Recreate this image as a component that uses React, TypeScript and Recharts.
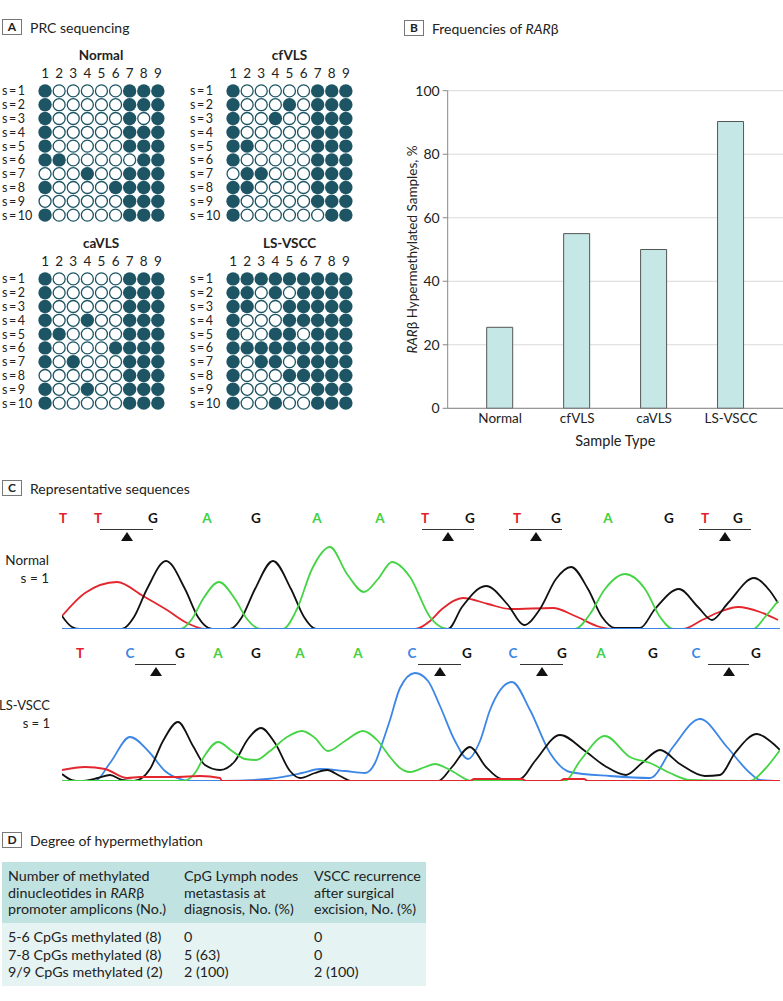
import React from "react";
import {
  BarChart,
  Bar,
  XAxis,
  YAxis,
  CartesianGrid,
  Label,
  ScatterChart,
  Scatter,
  LineChart,
  Line,
} from "recharts";

const FONT = "Lato, 'Noto Sans', sans-serif";
const TEAL = "#1d5565";
const TEXT = "#222";

// Panel A: methylation of the 9 CpG sites (1 = methylated), rows s=1..10
const cpgSites = [1, 2, 3, 4, 5, 6, 7, 8, 9];
const sampleRows = [1, 2, 3, 4, 5, 6, 7, 8, 9, 10];
const normalRows = ["100000111", "100000111", "100000101", "100000111", "100000111", "110000011", "000100111", "100001111", "000000111", "100000111"];
const cfvlsRows = ["100000111", "100010111", "100100111", "100000111", "110000111", "100000111", "011000111", "110000111", "100000111", "100000011"];
const cavlsRows = ["100000111", "100000111", "100000111", "100100111", "110000111", "100001111", "101000111", "000000111", "100100111", "100000111"];
const lsvsccRows = ["111111111", "110101111", "110011111", "100011111", "100110111", "111111111", "101101111", "100011111", "100000111", "100100111"];

// Panel B
const sampleTypes = ["Normal", "cfVLS", "caVLS", "LS-VSCC"];
const hypermethylatedPct = [25.5, 55, 50, 90.3];
const pctTicks = [0, 20, 40, 60, 80, 100];

// Panel C: chromatogram traces, [scan position, signal]
const normalT = [[0,13],[23,36],[55,47],[81,33],[105,19],[125,6],[143,0],[353,0],[368,8],[380,20],[401,31],[426,25],[448,20],[491,21],[513,13],[538,2],[553,0],[621,0],[640,9],[660,18],[676,22],[698,17],[716,9]];
const normalG = [[0,13],[10,2],[18,0],[60,0],[72,12],[85,40],[104,68],[123,40],[136,12],[150,0],[168,0],[180,12],[193,40],[211,68],[229,40],[242,12],[254,0],[386,0],[400,22],[424,43],[446,24],[462,4],[478,20],[494,50],[509,62],[526,40],[540,12],[553,1],[578,1],[593,20],[617,40],[636,22],[650,9],[666,26],[692,51],[708,38],[716,26]];
const normalA = [[0,0],[118,0],[130,10],[141,30],[157,47],[173,30],[185,10],[198,0],[221,0],[235,20],[250,60],[268,82],[285,55],[302,37],[316,50],[330,67],[348,52],[368,12],[386,0],[513,0],[528,15],[543,40],[563,55],[583,40],[598,12],[611,0],[691,0],[703,12],[716,28]];
const normalC = [[0,0],[718,0]];

const lsT = [[0,11],[23,14],[43,12],[65,3],[78,4],[113,4],[138,5],[158,3],[160,0],[408,0],[412,2],[460,2],[464,0],[498,0],[502,2],[522,2],[526,0],[718,0]];
const lsG = [[0,7],[10,1],[18,0],[36,3],[48,6],[60,1],[72,0],[88,12],[101,40],[116,59],[131,35],[143,16],[158,11],[173,20],[186,42],[199,53],[213,38],[228,10],[238,3],[253,8],[265,11],[278,5],[290,0],[376,0],[390,14],[408,34],[424,14],[440,2],[458,2],[473,20],[498,46],[523,30],[543,15],[564,6],[580,18],[598,31],[618,17],[643,5],[658,6],[673,28],[695,47],[708,40],[718,31]];
const lsA = [[0,0],[121,0],[133,8],[143,26],[156,39],[170,30],[183,22],[194,21],[208,30],[225,44],[240,50],[253,43],[266,30],[283,40],[301,50],[316,40],[328,24],[338,13],[348,9],[363,14],[373,17],[388,11],[410,0],[503,0],[518,20],[543,45],[568,24],[588,18],[608,8],[628,1],[688,0],[703,12],[718,31]];
const lsC = [[0,0],[33,0],[48,18],[68,44],[88,28],[103,10],[118,2],[130,0],[160,0],[205,2],[240,8],[258,12],[283,10],[303,8],[313,18],[321,40],[328,61],[338,93],[353,108],[366,100],[378,75],[393,40],[406,22],[418,40],[428,71],[450,99],[468,71],[488,28],[508,9],[548,5],[588,3],[611,34],[638,62],[665,34],[688,8],[698,1],[718,0]];

const normalBases = "TTGAGAATGTGAGTG";
const normalBasePos = [1, 36, 91, 145, 194, 255, 318, 363, 408, 455, 494, 546, 607, 643, 676];
const normalCpG = [[38, 91], [360, 412], [447, 500], [637, 689]];
const lsBases = "TCGAGAACGCGAGCG";
const lsBasePos = [18, 68, 118, 156, 194, 238, 296, 350, 405, 451, 500, 539, 591, 634, 694];
const lsCpG = [[73, 114], [356, 399], [458, 501], [646, 687]];

// Panel D
const methylGroups = ["5-6 CpGs methylated (8)", "7-8 CpGs methylated (8)", "9/9 CpGs methylated (2)"];
const nodeMetastasis = ["0", "5 (63)", "2 (100)"];
const recurrence = ["0", "0", "2 (100)"];

const BASE_COLORS: Record<string, string> = { T: "#e3212b", G: "#111111", A: "#3fd13f", C: "#3b86e6" };

const PanelTag = ({ letter, left, top, children }: any) => (
  <div style={{ position: "absolute", left, top, display: "flex", alignItems: "center", height: 16, whiteSpace: "nowrap" }}>
    <div style={{ width: 18, height: 14, border: "1px solid #777", fontWeight: 700, fontSize: 12, textAlign: "center", lineHeight: "14px" }}>
      {letter}
    </div>
    <div style={{ marginLeft: 8, fontSize: 14, color: TEXT }}>{children}</div>
  </div>
);

const ColTick = ({ x, y, payload }: any) => (
  <text x={x} y={y - 11} textAnchor="middle" dominantBaseline="central" fontSize={13.5} fill={TEXT} fontFamily={FONT}>
    {payload.value}
  </text>
);

const RowTick = ({ x, y, payload }: any) => (
  <text x={x - 36} y={y} textAnchor="start" dominantBaseline="central" fontSize={12.5} fill={TEXT} fontFamily={FONT}>
    {`s\u2009=\u2009${payload.value}`}
  </text>
);

const DotShape = ({ cx, cy, payload }: any) =>
  payload.m ? (
    <circle cx={cx} cy={cy} r={6.7} fill={TEAL} />
  ) : (
    <circle cx={cx} cy={cy} r={6} fill="#fff" stroke={TEAL} strokeWidth={1.3} />
  );

// the x scale spans one spare column on the right so each site gets ~14 px
const DotGrid = ({ title, rows, left, top }: any) => {
  const data = rows.flatMap((r: string, i: number) =>
    r.split("").map((c, j) => ({ site: cpgSites[j], sample: sampleRows[i], m: c === "1" }))
  );
  return (
    <div style={{ position: "absolute", left, top }}>
      <div style={{ position: "absolute", left: 37, width: 127, top: -16, lineHeight: "18px", textAlign: "center", fontWeight: 700, fontSize: 13.5, color: TEXT }}>
        {title}
      </div>
      <ScatterChart width={180} height={162} margin={{ top: 0, right: 2, bottom: 2, left: 0 }}>
        <XAxis type="number" dataKey="site" orientation="top" domain={[0.5, 10.5]} allowDataOverflow ticks={cpgSites} interval={0} axisLine={false} tickLine={false} tickSize={0} tickMargin={0} height={22} tick={ColTick} />
        <YAxis type="number" dataKey="sample" domain={[0.5, 10.5]} allowDataOverflow reversed ticks={sampleRows} interval={0} axisLine={false} tickLine={false} tickSize={0} tickMargin={0} width={37} tick={RowTick} />
        <Scatter data={data} shape={DotShape} isAnimationActive={false} />
      </ScatterChart>
    </div>
  );
};

const YTitle = (props: any) => {
  const vb = props.viewBox || { x: 0, y: 30.7, width: 47.7, height: 317.6 };
  const cx = vb.x + 11.7;
  const cy = vb.y + vb.height / 2;
  return (
    <text x={cx} y={cy} transform={`rotate(-90 ${cx} ${cy})`} textAnchor="middle" dominantBaseline="central" fontSize={13.5} fill={TEXT} fontFamily={FONT}>
      <tspan fontStyle="italic">RAR</tspan>β Hypermethylated Samples, %
    </text>
  );
};

const toPoints = (arr: number[][]) => arr.map(([x, y]) => ({ x, y }));

const Trace = ({ series, top, height, yMax }: any) => (
  <div style={{ position: "absolute", left: 60, top }}>
    <LineChart width={722} height={height} margin={{ top: 2, right: 2, bottom: 2, left: 2 }}>
      <XAxis type="number" dataKey="x" domain={[0, 718]} hide allowDataOverflow />
      <YAxis type="number" domain={[0, yMax]} hide allowDataOverflow />
      {series.map((s: any) => (
        <Line key={s.base} data={toPoints(s.points)} dataKey="y" type="monotone" stroke={s.color} strokeWidth={1.8} dot={false} isAnimationActive={false} />
      ))}
    </LineChart>
  </div>
);

const BaseCalls = ({ bases, positions, cpg, top }: any) => (
  <>
    {bases.split("").map((b: string, i: number) => (
      <div key={i} style={{ position: "absolute", left: 62 + positions[i], top: top - 9, transform: "translateX(-50%)", fontWeight: 700, fontSize: 13.5, lineHeight: "18px", color: BASE_COLORS[b] }}>
        {b}
      </div>
    ))}
    {cpg.map(([a, b]: number[], i: number) => (
      <div key={"c" + i}>
        <div style={{ position: "absolute", left: 62 + a, top: top + 11, width: b - a, height: 1.4, background: "#333" }} />
        <svg style={{ position: "absolute", left: 62 + (a + b) / 2 - 6, top: top + 14 }} width={12} height={10}>
          <polygon points="6,0 12,9 0,9" fill="#111" />
        </svg>
      </div>
    ))}
  </>
);

export default function App() {
  const barData = sampleTypes.map((t, i) => ({ type: t, pct: hypermethylatedPct[i] }));
  const normalSeries = [
    { base: "T", color: "#e3252d", points: normalT },
    { base: "G", color: "#111", points: normalG },
    { base: "A", color: "#44d444", points: normalA },
    { base: "C", color: "#3b86e6", points: normalC },
  ];
  const lsSeries = [
    { base: "C", color: "#3b86e6", points: lsC },
    { base: "G", color: "#111", points: lsG },
    { base: "A", color: "#44d444", points: lsA },
    { base: "T", color: "#e3252d", points: lsT },
  ];
  const cell = { position: "absolute" as const, whiteSpace: "nowrap" as const };
  return (
    <div style={{ position: "absolute", left: 0, top: 0, width: 783, height: 1001, background: "#fff", fontFamily: FONT, color: TEXT, overflow: "hidden" }}>
      <PanelTag letter="A" left={2} top={19}>PRC sequencing</PanelTag>
      <DotGrid title="Normal" rows={normalRows} left={0.5} top={62} />
      <DotGrid title="cfVLS" rows={cfvlsRows} left={189} top={62} />
      <DotGrid title="caVLS" rows={cavlsRows} left={0.5} top={250} />
      <DotGrid title="LS-VSCC" rows={lsvsccRows} left={189} top={250} />

      <PanelTag letter="B" left={404} top={20}>
        Frequencies of <i>RAR</i>β
      </PanelTag>
      <div style={{ position: "absolute", left: 400, top: 60 }}>
        <BarChart width={383} height={400} data={barData} margin={{ top: 30.7, right: 0, bottom: 1.7, left: 0 }}>
          <CartesianGrid vertical={false} stroke="#d9d9d9" />
          <XAxis dataKey="type" interval={0} padding={{ left: 14, right: 13.5 }} tickLine={false} tickSize={0} tickMargin={5} height={50} axisLine={{ stroke: "#888" }} tick={{ fontSize: 13.5, fill: TEXT, fontFamily: FONT }}>
            <Label value="Sample Type" position="insideBottom" offset={12} style={{ fontSize: 14.5, fill: TEXT, fontFamily: FONT }} />
          </XAxis>
          <YAxis domain={[0, 100]} ticks={pctTicks} interval={0} width={47.7} tickSize={5} tickMargin={3} axisLine={{ stroke: "#888" }} tickLine={{ stroke: "#888" }} tick={{ fontSize: 14, fill: TEXT, fontFamily: FONT }}>
            <Label content={YTitle} />
          </YAxis>
          <Bar dataKey="pct" barSize={26} fill="#c5e7e5" stroke="#555" strokeWidth={1} isAnimationActive={false} />
        </BarChart>
      </div>

      <PanelTag letter="C" left={2} top={480}>Representative sequences</PanelTag>
      <BaseCalls bases={normalBases} positions={normalBasePos} cpg={normalCpG} top={518} />
      <div style={{ position: "absolute", right: 734, top: 551, textAlign: "right", fontSize: 13.5, lineHeight: "18px", whiteSpace: "nowrap" }}>
        Normal
        <br />s = 1
      </div>
      <Trace series={normalSeries} top={537} height={94} yMax={90} />

      <BaseCalls bases={lsBases} positions={lsBasePos} cpg={lsCpG} top={653} />
      <div style={{ position: "absolute", right: 733, top: 696, textAlign: "right", fontSize: 13, lineHeight: "18px", whiteSpace: "nowrap" }}>
        LS-VSCC
        <br />s = 1
      </div>
      <Trace series={lsSeries} top={667} height={116} yMax={112} />

      <PanelTag letter="D" left={2} top={832}>Degree of hypermethylation</PanelTag>
      <div style={{ position: "absolute", left: 2, top: 862, width: 424, height: 61, background: "#c0e3e1", fontSize: 14.3, lineHeight: "16.5px" }}>
        <div style={{ ...cell, left: 6, top: 6 }}>
          Number of methylated<br />dinucleotides in <i>RAR</i>β<br />promoter amplicons (No.)
        </div>
        <div style={{ ...cell, left: 182, top: 6 }}>
          CpG Lymph nodes<br />metastasis at<br />diagnosis, No. (%)
        </div>
        <div style={{ ...cell, left: 312, top: 6 }}>
          VSCC recurrence<br />after surgical<br />excision, No. (%)
        </div>
      </div>
      <div style={{ position: "absolute", left: 2, top: 923, width: 424, height: 63, background: "#e5f3f2", fontSize: 14.3, lineHeight: "17.5px" }}>
        {methylGroups.map((g, i) => (
          <React.Fragment key={g}>
            <div style={{ ...cell, left: 6, top: 5 + i * 17.5 }}>{g}</div>
            <div style={{ ...cell, left: 182, top: 5 + i * 17.5 }}>{nodeMetastasis[i]}</div>
            <div style={{ ...cell, left: 312, top: 5 + i * 17.5 }}>{recurrence[i]}</div>
          </React.Fragment>
        ))}
      </div>
    </div>
  );
}
